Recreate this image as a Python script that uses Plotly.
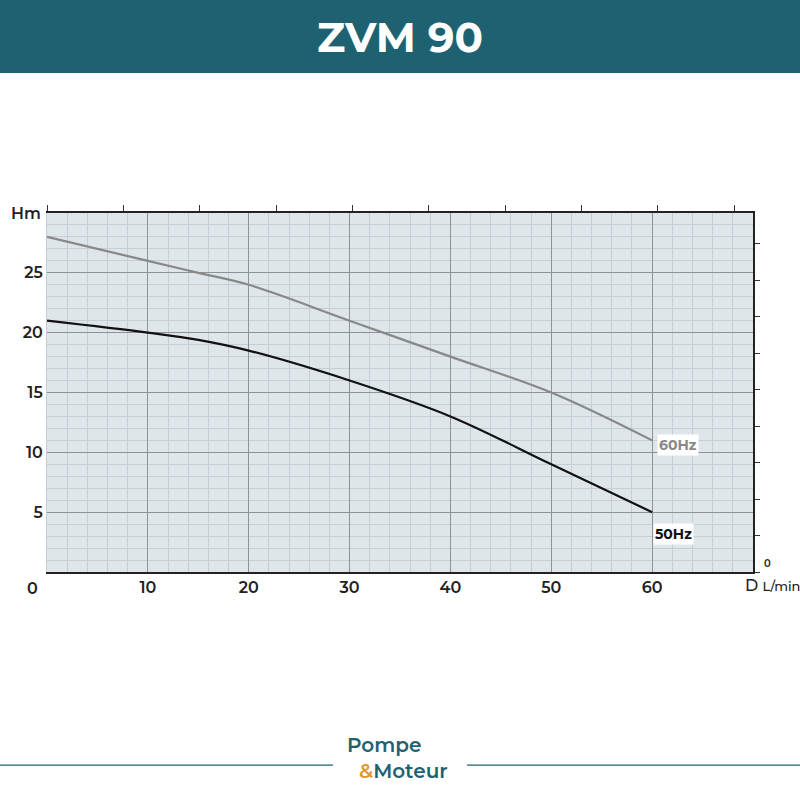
import plotly.graph_objects as go

# débit (L/min) et hauteur (m)
flow = [0, 10, 15, 20, 30, 40, 50, 60]
head_60hz = [28, 26, 25, 24, 21, 18, 15, 11]
head_50hz = [21, 20, 19.4, 18.5, 16, 13, 9, 5]
x_ticks = [10, 20, 30, 40, 50, 60]
y_ticks = [5, 10, 15, 20, 25]

TEAL = "#1e6272"
FONT = "Montserrat, Open Sans, sans-serif"

fig = go.Figure()

fig.add_trace(go.Scatter(x=flow, y=head_60hz, mode="lines", line=dict(color="#888888", width=2.2, shape="spline"),
                         hoverinfo="skip"))
fig.add_trace(go.Scatter(x=flow, y=head_50hz, mode="lines", line=dict(color="#111111", width=2.2, shape="spline"),
                         hoverinfo="skip"))
# invisible trace for secondary (gpm / ft) tick axes
fig.add_trace(go.Scatter(x=[0], y=[0], xaxis="x2", yaxis="y2", mode="markers",
                         marker=dict(opacity=0), hoverinfo="skip"))

tick_font = dict(size=16, color="#222", weight=600)

fig.update_layout(
    width=800, height=800,
    paper_bgcolor="white", plot_bgcolor="#dfe6ea",
    margin=dict(l=47, r=47, t=213, b=228),
    showlegend=False,
    font=dict(family=FONT, color="#222"),
    title=dict(text="<b>ZVM 90</b>", x=0.5, xanchor="center", y=0.954, yanchor="middle", yref="container",
               font=dict(size=42, color="white", family=FONT)),
    xaxis=dict(range=[0, 70], tickvals=x_ticks, ticks="", showgrid=True, gridcolor="#8c9296", gridwidth=1,
               minor=dict(dtick=2, showgrid=True, gridcolor="#c4ced4", gridwidth=1),
               showline=True, linecolor="#222", linewidth=1.5, zeroline=False,
               tickfont=tick_font, fixedrange=True),
    yaxis=dict(range=[0, 30], tickvals=y_ticks, ticks="", showgrid=True, gridcolor="#8c9296", gridwidth=1,
               minor=dict(dtick=1, showgrid=True, gridcolor="#c4ced4", gridwidth=1),
               showline=True, linecolor="#c4ced4", linewidth=1, zeroline=False,
               tickfont=tick_font, fixedrange=True),
    xaxis2=dict(overlaying="x", side="top", range=[0, 70 / 3.785], dtick=2, tick0=0, ticks="outside",
                ticklen=6, tickcolor="#333", showticklabels=False, showgrid=False, zeroline=False,
                showline=True, linecolor="#222", linewidth=1.5),
    yaxis2=dict(overlaying="y", side="right", range=[0, 30 * 3.2808], dtick=10, tick0=0, ticks="outside",
                ticklen=5, tickcolor="#333", showticklabels=False, showgrid=False, zeroline=False,
                showline=True, linecolor="#222", linewidth=1.5),
    shapes=[
        dict(type="rect", xref="paper", yref="paper", x0=-0.1, x1=1.1, y0=1.39, y1=1.6,
             fillcolor=TEAL, line=dict(width=0), layer="below"),
        dict(type="line", xref="paper", yref="paper", x0=-0.1, x1=0.405, y0=-0.538, y1=-0.538,
             line=dict(color=TEAL, width=1.2)),
        dict(type="line", xref="paper", yref="paper", x0=0.595, x1=1.1, y0=-0.538, y1=-0.538,
             line=dict(color=TEAL, width=1.2)),
    ],
    annotations=[
        dict(text="Hm", xref="paper", yref="paper", x=-0.005, y=1.0, xanchor="right", yanchor="middle",
             showarrow=False, font=tick_font),
        dict(text="0", xref="paper", yref="paper", x=-0.01, y=-0.015, xanchor="right", yanchor="top",
             showarrow=False, font=tick_font),
        dict(text="D <span style='font-size:13px'>L/min</span>", xref="paper", yref="paper", x=1.027, y=-0.005,
             xanchor="center", yanchor="top", showarrow=False, font=dict(size=16, color="#222", weight=500)),
        dict(text="0", xref="paper", yref="paper", x=1.02, y=0.0, xanchor="center", yanchor="bottom",
             showarrow=False, font=dict(size=10, color="#222", weight=600)),
        dict(text="<b>60Hz</b>", x=60.5, y=10.6, xanchor="left", yanchor="middle", showarrow=False,
             bgcolor="white", font=dict(size=14, color="#888888")),
        dict(text="<b>50Hz</b>", x=60.1, y=3.2, xanchor="left", yanchor="middle", showarrow=False,
             bgcolor="white", font=dict(size=14, color="#111111")),
        dict(text="Pompe", xref="paper", yref="paper", x=0.477, y=-0.52, showarrow=False,
             font=dict(size=20, color=TEAL, family=FONT, weight=600)),
        dict(text="<span style='color:#e0962a'>&amp;</span>Moteur", xref="paper", yref="paper", x=0.505, y=-0.593,
             showarrow=False, font=dict(size=20, color=TEAL, family=FONT, weight=600)),
    ],
)

fig.write_html("out.html", post_script="document.body.style.margin='0';",
               config={"displayModeBar": False})
